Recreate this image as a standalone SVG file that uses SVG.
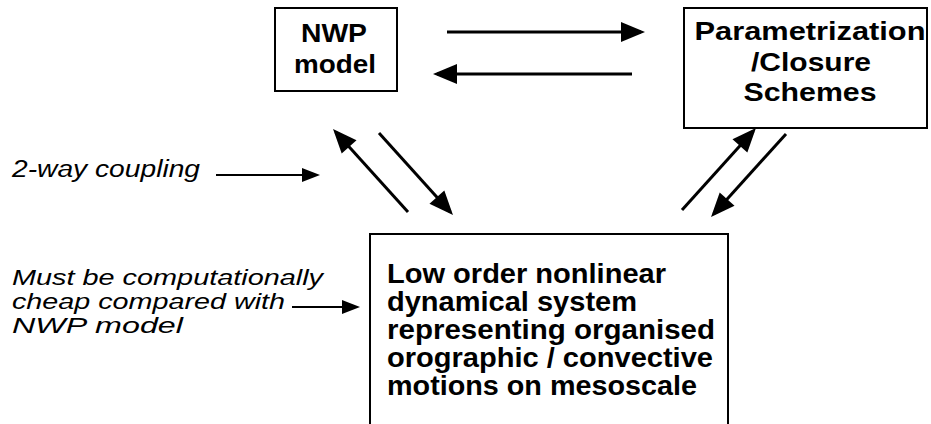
<svg xmlns="http://www.w3.org/2000/svg" width="931" height="424" viewBox="0 0 931 424">
<style>
.box{fill:#fff;stroke:#000;stroke-width:2}
.t{font-family:"Liberation Sans",Arial,Helvetica,sans-serif;font-weight:bold;fill:#000}
.it{font-family:"Liberation Sans",Arial,Helvetica,sans-serif;font-style:italic;fill:#000}
.c{stroke:#000;stroke-width:3;fill:none}
.cs{stroke:#000;stroke-width:2;fill:none}
</style>
<defs>
<marker id="ah" markerUnits="userSpaceOnUse" markerWidth="24" markerHeight="20" refX="20" refY="10" orient="auto" overflow="visible"><path d="M0,0 L24,10 L0,20 z" fill="#000"/></marker>
<marker id="as" markerUnits="userSpaceOnUse" markerWidth="18" markerHeight="14" refX="15" refY="7" orient="auto" overflow="visible"><path d="M0,0 L18,7 L0,14 z" fill="#000"/></marker>
</defs>
<rect width="931" height="424" fill="#fff"/>
<g id="nwp">
<rect class="box" x="275" y="8" width="122" height="83"/>
<text class="t" font-size="26" text-anchor="middle" x="334" y="42" textLength="66" lengthAdjust="spacingAndGlyphs">NWP</text>
<text class="t" font-size="26" text-anchor="middle" x="335" y="73" textLength="82" lengthAdjust="spacingAndGlyphs">model</text>
</g>
<g id="param">
<rect class="box" x="684" y="8" width="243" height="120"/>
<text class="t" font-size="26" text-anchor="middle" x="810" y="40" textLength="231" lengthAdjust="spacingAndGlyphs">Parametrization</text>
<text class="t" font-size="26" text-anchor="middle" x="811" y="71" textLength="120" lengthAdjust="spacingAndGlyphs">/Closure</text>
<text class="t" font-size="26" text-anchor="middle" x="810" y="101" textLength="133" lengthAdjust="spacingAndGlyphs">Schemes</text>
</g>
<g id="lowOrder">
<rect class="box" x="370" y="234" width="358" height="200"/>
<text class="t" font-size="28" x="387" y="283" textLength="279" lengthAdjust="spacingAndGlyphs">Low order nonlinear</text>
<text class="t" font-size="28" x="387" y="311" textLength="250" lengthAdjust="spacingAndGlyphs">dynamical system</text>
<text class="t" font-size="28" x="387" y="339" textLength="328" lengthAdjust="spacingAndGlyphs">representing organised</text>
<text class="t" font-size="28" x="387" y="367" textLength="326" lengthAdjust="spacingAndGlyphs">orographic / convective</text>
<text class="t" font-size="28" x="387" y="395" textLength="310" lengthAdjust="spacingAndGlyphs">motions on mesoscale</text>
</g>
<g id="labelCoupling">
<text class="it" font-size="23" x="12" y="177" textLength="188" lengthAdjust="spacingAndGlyphs">2-way coupling</text>
</g>
<g id="labelCheap">
<text class="it" font-size="21.5" x="12" y="285" textLength="311" lengthAdjust="spacingAndGlyphs">Must be computationally</text>
<text class="it" font-size="21.5" x="12" y="309" textLength="273" lengthAdjust="spacingAndGlyphs">cheap compared with</text>
<text class="it" font-size="21.5" x="12" y="333" textLength="171" lengthAdjust="spacingAndGlyphs">NWP model</text>
</g>
<g id="connectors">
<line class="c" x1="447" y1="32" x2="641" y2="32" marker-end="url(#ah)"/>
<line class="c" x1="632" y1="74" x2="437" y2="74" marker-end="url(#ah)"/>
<line class="c" x1="408" y1="212" x2="335.7" y2="132" marker-end="url(#ah)"/>
<line class="c" x1="379" y1="133" x2="450.3" y2="212" marker-end="url(#ah)"/>
<line class="c" x1="682" y1="210" x2="753.3" y2="131" marker-end="url(#ah)"/>
<line class="c" x1="786" y1="134" x2="713.7" y2="214" marker-end="url(#ah)"/>
<line class="cs" x1="216" y1="175" x2="317" y2="175" marker-end="url(#as)"/>
<line class="cs" x1="292" y1="307" x2="357" y2="307" marker-end="url(#as)"/>
</g>
</svg>
